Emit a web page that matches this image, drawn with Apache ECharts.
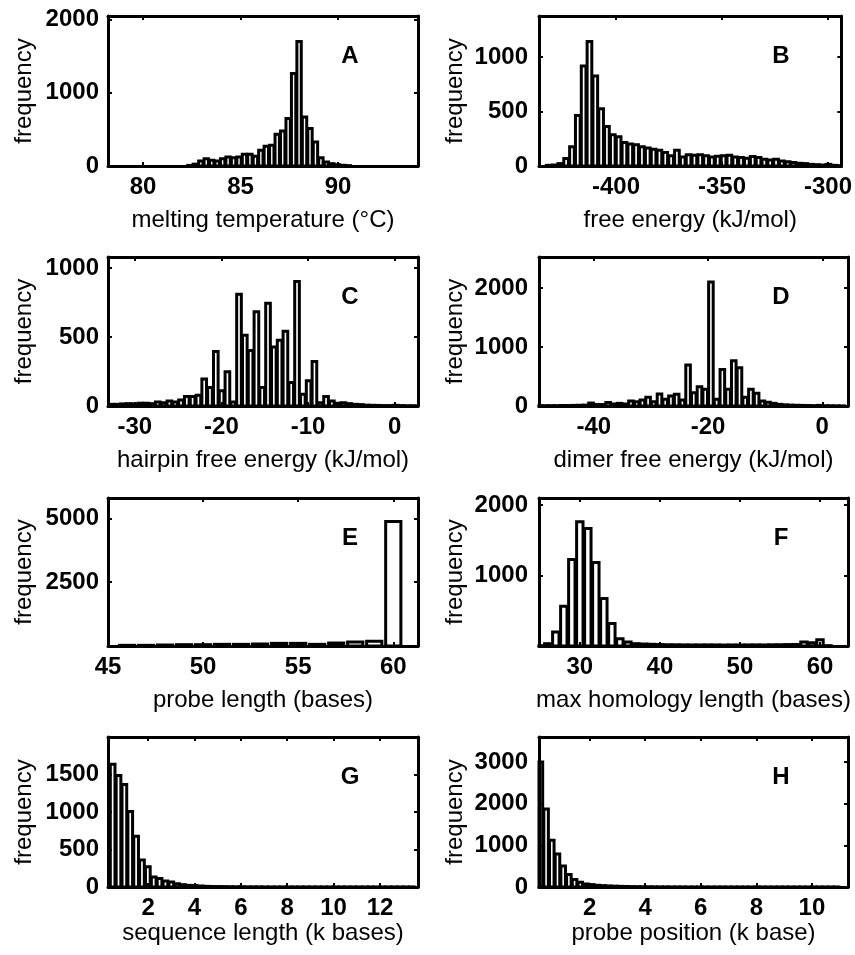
<!DOCTYPE html>
<html>
<head>
<meta charset="utf-8">
<script src="https://cdn.jsdelivr.net/npm/echarts@6/dist/echarts.min.js"></script>
<style>
html, body { margin: 0; padding: 0; background: #fff; }
#box { width: 855px; height: 955px; }
</style>
</head>
<body>
<div id="box"></div>
<script>
// histogram counts, one array per panel
// bins: first bin centre + bin width
const meltStart = 82.4, meltBin = 0.28
const meltCounts = [8, 25, 68, 100, 78, 68, 100, 123, 114, 123, 160, 160, 132, 215, 270, 283, 434, 480, 648, 1265, 1700, 671, 511, 329, 114, 55, 32, 18, 10, 5]

const freeStart = -431.75, freeBin = 2.75
const freeCounts = [6, 9, 22, 68, 176, 463, 917, 1142, 824, 525, 361, 287, 268, 216, 201, 194, 176, 164, 154, 145, 123, 93, 145, 83, 102, 99, 102, 93, 83, 89, 93, 99, 83, 77, 71, 86, 77, 62, 56, 62, 46, 40, 31, 25, 22, 15, 12, 9, 15, 6, 3]

const hairStart = -32.71, hairBin = 0.67
const hairCounts = [12, 12, 15, 17, 15, 20, 20, 17, 29, 24, 37, 29, 44, 68, 68, 78, 195, 134, 395, 110, 249, 29, 810, 512, 403, 683, 134, 744, 427, 476, 542, 171, 903, 85, 183, 322, 24, 68, 37, 20, 24, 17, 12, 10, 6, 5, 4, 3, 3, 5, 3, 2, 2]

const dimerStart = -49.5, dimerBin = 1
const dimerCounts = [5, 5, 6, 6, 8, 8, 10, 12, 15, 50, 25, 25, 60, 34, 45, 34, 85, 73, 100, 147, 73, 203, 113, 170, 198, 100, 695, 226, 328, 283, 2107, 113, 621, 283, 768, 650, 147, 283, 215, 85, 62, 45, 28, 20, 15, 12, 10, 8, 6, 10, 5, 4, 3, 2]

const probeStart = 46, probeBin = 1
const probeCounts = [26, 26, 39, 52, 52, 65, 65, 78, 104, 104, 65, 117, 156, 182, 4880]

const homoStart = 25, homoBin = 1
const homoCounts = [5, 33, 199, 564, 1228, 1763, 1668, 1185, 673, 318, 104, 57, 33, 28, 24, 20, 18, 17, 16, 15, 15, 16, 15, 14, 15, 14, 15, 16, 15, 17, 18, 20, 22, 57, 47, 90, 5]

const seqStart = 0.47, seqBin = 0.253
const seqCounts = [1640, 1490, 1370, 1010, 680, 360, 270, 135, 112, 81, 67, 45, 31, 22, 18, 13, 9, 7, 6, 5, 4, 3, 3, 2, 2, 2, 1, 1, 1, 1, 1, 1, 1, 1, 1, 1, 1, 1, 1, 1, 1, 1, 1, 1, 1, 1, 1, 1, 1, 1, 1, 1]

const posStart = 0.23, posBin = 0.205
const posCounts = [3000, 1873, 1120, 793, 507, 303, 180, 115, 74, 57, 41, 33, 25, 20, 16, 12, 10, 8, 6, 5, 4, 3, 3, 2, 2, 2, 1, 1, 1, 1, 1, 1, 1, 1, 1, 1, 1, 1, 1, 1, 1, 1, 1, 1, 1, 1, 1, 1, 1, 1, 1, 1, 1]

// axis ranges and tick labels
const xRanges = [[78.2, 94.1], [-436.3, -293.7], [-33.1, 2.7], [-49.6, 4.5], [45, 61.3], [24.9, 63.5], [0.27, 13.64], [0.18, 11.3]]
const yMax = [2050, 1375, 1080, 2530, 5800, 2100, 2005, 3600]
const xTicks = [[80, 85, 90], [-400, -350, -300], [-30, -20, -10, 0], [-40, -20, 0], [45, 50, 55, 60], [30, 40, 50, 60], [2, 4, 6, 8, 10, 12], [2, 4, 6, 8, 10]]
const yTicks = [[0, 1000, 2000], [0, 500, 1000], [0, 500, 1000], [0, 1000, 2000], [2500, 5000], [1000, 2000], [0, 500, 1000, 1500], [0, 1000, 2000, 3000]]

const letters = ['A', 'B', 'C', 'D', 'E', 'F', 'G', 'H']
const xNames = ['melting temperature (°C)', 'free energy (kJ/mol)', 'hairpin free energy (kJ/mol)', 'dimer free energy (kJ/mol)',
  'probe length (bases)', 'max homology length (bases)', 'sequence length (k bases)', 'probe position (k base)']

const hists = [
  [meltStart, meltBin, meltCounts], [freeStart, freeBin, freeCounts],
  [hairStart, hairBin, hairCounts], [dimerStart, dimerBin, dimerCounts],
  [probeStart, probeBin, probeCounts], [homoStart, homoBin, homoCounts],
  [seqStart, seqBin, seqCounts], [posStart, posBin, posCounts]
]

// layout
const colLeft = [108, 539]
const colWidth = [310, 309]
const rowTop = [16, 257, 498, 737]
const rowHeight = [150, 149, 148, 150]
const xNameGap = [42, 42, 42, 33]
const font = '"Liberation Sans", Arial, sans-serif'

const myChart = echarts.init(document.getElementById('box'))

const renderBar = (bin) => (params, api) => {
  const x = api.value(0)
  const y = api.value(1)
  const a = api.coord([x - bin * 0.4, y])
  const b = api.coord([x + bin * 0.4, 0])
  const cs = params.coordSys
  const rect = echarts.graphic.clipRectByRect(
    { x: a[0], y: a[1], width: b[0] - a[0], height: b[1] - a[1] },
    { x: cs.x, y: cs.y, width: cs.width, height: cs.height }
  )
  if (!rect) return
  return { type: 'rect', shape: rect, style: { fill: '#fff', stroke: '#000', lineWidth: 3 } }
}

const plain = (v) => String(v)

const grid = [], xAxis = [], yAxis = [], series = [], graphic = []

letters.forEach((letter, i) => {
  const col = i % 2
  const row = Math.floor(i / 2)
  grid.push({ left: colLeft[col], top: rowTop[row], width: colWidth[col], height: rowHeight[row] })

  const line = { show: true, onZero: false, lineStyle: { color: '#000', width: 3 } }
  const tick = { show: true, inside: true, length: 4, lineStyle: { color: '#000', width: 2 } }

  xAxis.push({
    type: 'value', gridIndex: i, position: 'bottom', min: xRanges[i][0], max: xRanges[i][1], z: 3,
    name: xNames[i], nameLocation: 'middle', nameGap: xNameGap[row],
    nameTextStyle: { fontFamily: font, fontSize: 24, color: '#000' },
    axisLine: line, axisTick: { ...tick, customValues: xTicks[i] }, splitLine: { show: false },
    axisLabel: { customValues: xTicks[i], formatter: plain, fontFamily: font, fontSize: 24, fontWeight: 'bold', color: '#000', margin: 9 }
  })
  xAxis.push({
    type: 'value', gridIndex: i, position: 'top', min: xRanges[i][0], max: xRanges[i][1], z: 3,
    axisLine: line, axisTick: { ...tick, customValues: xTicks[i] }, splitLine: { show: false },
    axisLabel: { show: false }
  })
  yAxis.push({
    type: 'value', gridIndex: i, position: 'left', min: 0, max: yMax[i], z: 3,
    name: 'frequency', nameLocation: 'middle', nameGap: 72,
    nameTextStyle: { fontFamily: font, fontSize: 24, color: '#000' },
    axisLine: line, axisTick: { ...tick, customValues: yTicks[i] }, splitLine: { show: false },
    axisLabel: { customValues: yTicks[i], formatter: plain, fontFamily: font, fontSize: 24, fontWeight: 'bold', color: '#000', margin: col ? 11 : 9 }
  })
  yAxis.push({
    type: 'value', gridIndex: i, position: 'right', min: 0, max: yMax[i], z: 3,
    axisLine: line, axisTick: { ...tick, customValues: yTicks[i] }, splitLine: { show: false },
    axisLabel: { show: false }
  })

  const [start, bin, counts] = hists[i]
  series.push({
    type: 'custom', xAxisIndex: 2 * i, yAxisIndex: 2 * i, z: 2,
    renderItem: renderBar(bin),
    encode: { x: 0, y: 1 },
    data: counts.map((c, k) => [start + k * bin, c])
  })

  graphic.push({
    type: 'text', x: colLeft[col] + 242, y: rowTop[row] + 40, z: 10,
    style: { text: letter, font: 'bold 24px ' + font, fill: '#000', textAlign: 'center', textVerticalAlign: 'middle', align: 'center', verticalAlign: 'middle' }
  })
})

myChart.setOption({
  animation: false,
  backgroundColor: '#fff',
  grid, xAxis, yAxis, series, graphic
})
</script>
</body>
</html>
